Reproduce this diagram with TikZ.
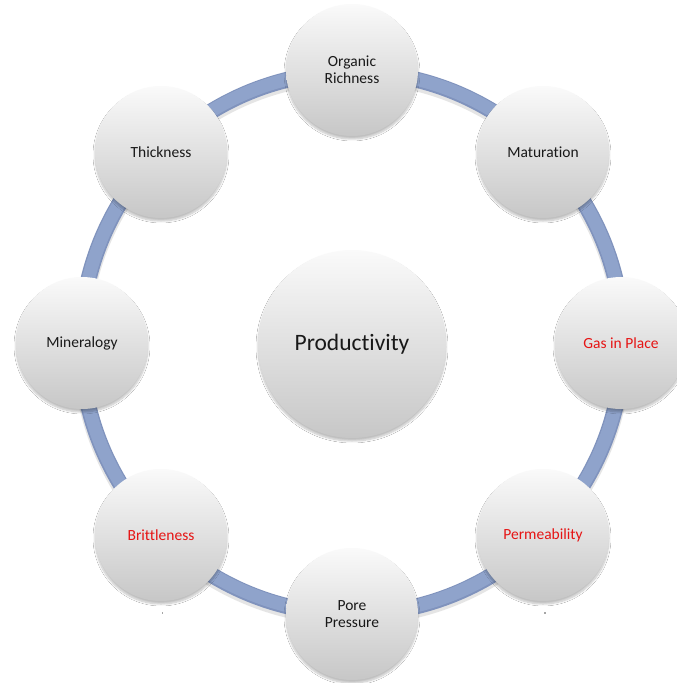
\documentclass[tikz,border=0pt]{standalone}
\usepackage{fontspec}
\setmainfont{Carlito}[Ligatures=NoCommon]
\usetikzlibrary{shadows,shadows.blur}
\definecolor{ringblue}{RGB}{143,163,203}
\definecolor{ringdark}{RGB}{128,147,189}
\definecolor{labelred}{RGB}{230,20,20}
\tikzset{
  factor/.style={circle, minimum size=132pt, inner sep=0pt, align=center,
    font=\fontsize{15.5pt}{17pt}\selectfont, text=black!90,
    shading=axis, top color=white!98!black, bottom color=black!22,
    blur shadow={shadow blur steps=8, shadow xshift=0pt, shadow yshift=-3pt, shadow opacity=25}},
  hub/.style={factor, minimum size=188pt, font=\fontsize{23.5pt}{26pt}\selectfont},
  hot/.style={text=labelred}
}
\begin{document}
\begin{tikzpicture}[x=1pt,y=-1pt]
  \useasboundingbox (0,0) rectangle (677,683);
  \fill[white] (0,0) rectangle (677,683);
  % linking ring
  \coordinate (c) at (352,343);
  \draw[black!10, line width=17pt] (352,346) circle[radius=271];
  \draw[ringdark, line width=16pt] (c) circle[radius=271];
  \draw[ringblue, line width=13pt] (352,342.5) circle[radius=271];
  % factor circles around the ring
  \node[factor] (org) at (352,70) {Organic\\Richness};
  \node[factor] (mat) at (543,152) {Maturation};
  \node[factor, hot] (gas) at (621,343) {Gas in Place};
  \node[factor, hot] (perm) at (543,535) {Permeability};
  \node[factor] (pore) at (352,614) {Pore\\Pressure};
  \node[factor, hot] (brit) at (161,535) {Brittleness};
  \node[factor] (min) at (82,343) {Mineralogy};
  \node[factor] (thick) at (161,152) {Thickness};
  % central hub
  \node[hub] (prod) at (352,344) {Productivity};
  % small specks below the lower circles
  \fill[black!35] (161.5,612) rectangle ++(1.5,1.5);
  \fill[black!35] (544,612) rectangle ++(1.5,1.5);
\end{tikzpicture}
\end{document}
